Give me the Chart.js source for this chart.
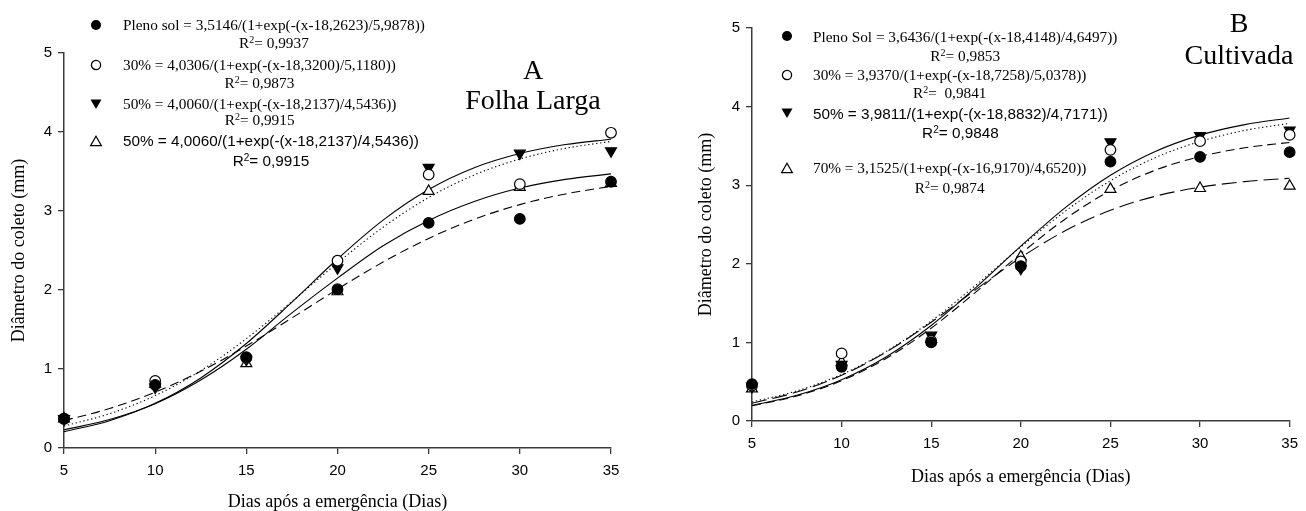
<!DOCTYPE html>
<html>
<head>
<meta charset="utf-8">
<script src="https://cdn.jsdelivr.net/npm/chart.js@4.4.0/dist/chart.umd.min.js"></script>
<style>
  body { margin: 0; background: #fff; width: 1306px; height: 511px; overflow: hidden; position: relative;
         font-family: "Liberation Serif", "Times New Roman", serif; color: #000; }
  .panel { position: absolute; top: 0; }
  .leg { position: absolute; white-space: pre; text-align: center; font-size: 15.3px; }
  .leg.sans { font-family: "Liberation Sans", Arial, sans-serif; }
  .leg sup { font-size: 10px; line-height: 0; vertical-align: 5px; }
  .mk { position: absolute; width: 14px; height: 14px; }
  .ttl { position: absolute; font-size: 28px; line-height: 31px; text-align: center; transform: translateX(-50%); white-space: pre; }
</style>
</head>
<body>
<div class="panel" style="left:0"><canvas id="chartA" width="640" height="511"></canvas></div>
<div class="panel" style="left:650px"><canvas id="chartB" width="656" height="511"></canvas></div>
<div id="overlay"></div>

<script>
// observed days and fitted-curve days
const days = [5, 10, 15, 20, 25, 30, 35];
const fitDays = [5, 7.5, 10, 12.5, 15, 17.5, 20, 22.5, 25, 27.5, 30, 32.5, 35];
const xTicks = [5, 10, 15, 20, 25, 30, 35];
const yTicks = [0, 1, 2, 3, 4, 5];

// A - Folha Larga, observed
const aPleno = [0.37, 0.80, 1.15, 2.01, 2.85, 2.90, 3.37];
const a30 = [0.37, 0.85, 1.14, 2.37, 3.46, 3.34, 3.99];
const a50 = [0.37, 0.77, 1.12, 2.28, 3.55, 3.73, 3.76];
const a70 = [0.37, 0.81, 1.07, 1.98, 3.25, 3.30, 3.35];
// A fitted curves
const aPlenoFit = [0.346, 0.500, 0.707, 0.971, 1.290, 1.646, 2.011, 2.354, 2.653, 2.896, 3.081, 3.216, 3.312];
const a30Fit = [0.278, 0.434, 0.663, 0.979, 1.384, 1.854, 2.343, 2.795, 3.171, 3.456, 3.658, 3.793, 3.881];
const a50Fit = [0.207, 0.346, 0.565, 0.887, 1.323, 1.846, 2.392, 2.884, 3.271, 3.547, 3.727, 3.841, 3.909];
const a70Fit = [0.23, 0.36, 0.56, 0.86, 1.25, 1.71, 2.15, 2.56, 2.88, 3.12, 3.29, 3.40, 3.47];

// B - Cultivada, observed
const bPleno = [0.47, 0.69, 1.00, 1.97, 3.30, 3.36, 3.42];
const b30 = [0.45, 0.86, 1.02, 2.03, 3.45, 3.56, 3.64];
const b50 = [0.44, 0.72, 1.09, 1.94, 3.55, 3.63, 3.70];
const b70 = [0.41, 0.75, 1.04, 2.09, 2.95, 2.96, 2.99];
// B fitted curves
const bPlenoFit = [0.193, 0.318, 0.513, 0.798, 1.181, 1.643, 2.129, 2.574, 2.932, 3.191, 3.365, 3.476, 3.544];
const b30Fit = [0.242, 0.383, 0.592, 0.887, 1.272, 1.730, 2.216, 2.673, 3.057, 3.350, 3.557, 3.697, 3.787];
const b50Fit = [0.199, 0.327, 0.526, 0.818, 1.215, 1.701, 2.225, 2.718, 3.126, 3.429, 3.637, 3.771, 3.855];
const b70Fit = [0.226, 0.368, 0.581, 0.880, 1.256, 1.675, 2.080, 2.423, 2.681, 2.859, 2.974, 3.046, 3.089];

// legend texts
const legA = [
  "Pleno sol = 3,5146/(1+exp(-(x-18,2623)/5,9878))",
  "30% = 4,0306/(1+exp(-(x-18,3200)/5,1180))",
  "50% = 4,0060/(1+exp(-(x-18,2137)/4,5436))",
  "50% = 4,0060/(1+exp(-(x-18,2137)/4,5436))",
];
const r2A = ["0,9937", "0,9873", "0,9915", "0,9915"];
const legB = [
  "Pleno Sol = 3,6436/(1+exp(-(x-18,4148)/4,6497))",
  "30% = 3,9370/(1+exp(-(x-18,7258)/5,0378))",
  "50% = 3,9811/(1+exp(-(x-18,8832)/4,7171))",
  "70% = 3,1525/(1+exp(-(x-16,9170)/4,6520))",
];
const r2B = ["0,9853", " 0,9841", "0,9848", "0,9874"];

const AX = "#3a3a3a";
const xy = (xs, ys) => xs.map((x, i) => ({ x, y: ys[i] }));

function pts(data, style) {
  const base = { type: "scatter", data, borderColor: "#000", borderWidth: 1.2, clip: false,
                 pointHoverRadius: 5 };
  if (style === "dot") return { ...base, pointStyle: "circle", pointRadius: 5.3, backgroundColor: "#000" };
  if (style === "ring") return { ...base, pointStyle: "circle", pointRadius: 5.3, backgroundColor: "#fff" };
  if (style === "down") return { ...base, pointStyle: "triangle", pointRotation: 180, pointRadius: 6.3, backgroundColor: "#000" };
  return { ...base, pointStyle: "triangle", pointRadius: 6.3, backgroundColor: "#fff" };
}

function curve(data, dash) {
  return { type: "line", data, borderColor: "#000", borderWidth: 1.1, borderDash: dash,
           pointRadius: 0, cubicInterpolationMode: "monotone", fill: false };
}

function makeChart(id, datasets, pad, yW, xH) {
  new Chart(document.getElementById(id), {
    data: { datasets },
    options: {
      responsive: false,
      animation: false,
      layout: { padding: pad },
      plugins: { legend: { display: false }, tooltip: { enabled: false } },
      scales: {
        x: {
          type: "linear", min: 5, max: 35,
          afterBuildTicks: (s) => { s.ticks = xTicks.map((v) => ({ value: v })); },
          afterFit: (s) => { s.height = xH; },
          grid: { drawOnChartArea: false, color: AX, tickLength: 6, lineWidth: 1.3 },
          border: { color: AX, width: 1.5 },
          ticks: { color: "#000", padding: 8, maxRotation: 0, font: { family: "Liberation Sans, Arial", size: 15 } },
          title: { display: true, text: "Dias após a emergência (Dias)", color: "#000", padding: 0,
                   font: { family: "Liberation Serif, Times New Roman", size: 18, lineHeight: 1 } },
        },
        y: {
          min: 0, max: 5,
          afterBuildTicks: (s) => { s.ticks = yTicks.map((v) => ({ value: v })); },
          afterFit: (s) => { s.width = yW; },
          grid: { drawOnChartArea: false, color: AX, tickLength: 6, lineWidth: 1.3 },
          border: { color: AX, width: 1.5 },
          ticks: { color: "#000", padding: 6, font: { family: "Liberation Sans, Arial", size: 15 } },
          title: { display: true, text: "Diâmetro do coleto (mm)", color: "#000", padding: 0,
                   font: { family: "Liberation Serif, Times New Roman", size: 18, lineHeight: 1 } },
        },
      },
    },
  });
}

makeChart("chartA", [
  pts(xy(days, aPleno), "dot"),
  pts(xy(days, a30), "ring"),
  pts(xy(days, a50), "down"),
  pts(xy(days, a70), "up"),
  curve(xy(fitDays, a50Fit), []),
  curve(xy(fitDays, a30Fit), [1.3, 2.7]),
  curve(xy(fitDays, aPlenoFit), [9, 5]),
  curve(xy(fitDays, a70Fit), []),
], { left: 10, right: 29, top: 53, bottom: 0 }, 54, 63);

makeChart("chartB", [
  pts(xy(days, bPleno), "dot"),
  pts(xy(days, b30), "ring"),
  pts(xy(days, b50), "down"),
  pts(xy(days, b70), "up"),
  curve(xy(fitDays, b50Fit), []),
  curve(xy(fitDays, b30Fit), [1.3, 2.7]),
  curve(xy(fitDays, bPlenoFit), [9, 5]),
  curve(xy(fitDays, b70Fit), [15, 6]),
], { left: 47, right: 8, top: 28, bottom: 25 }, 55, 65);

// legends and panel titles
const marks = {
  dot: '<circle cx="7" cy="7" r="5" fill="#000"/>',
  ring: '<circle cx="7" cy="7" r="4.6" fill="#fff" stroke="#000" stroke-width="1.3"/>',
  down: '<polygon points="1.5,2.5 12.5,2.5 7,12" fill="#000"/>',
  up: '<polygon points="7,2.2 12.4,11.6 1.6,11.6" fill="none" stroke="#000" stroke-width="1.2"/>',
};
const shapes = ["dot", "ring", "down", "up"];
const ov = document.getElementById("overlay");

function legend(texts, r2s, mx, tx, rows, gaps, sansRow) {
  texts.forEach((t, i) => {
    const m = document.createElement("div");
    m.className = "mk";
    m.style.left = mx - 7 + "px";
    m.style.top = rows[i] - 7 + "px";
    m.innerHTML = '<svg width="14" height="14">' + marks[shapes[i]] + "</svg>";
    ov.appendChild(m);
    const d = document.createElement("div");
    d.className = "leg" + (i === sansRow ? " sans" : "");
    d.style.left = tx + "px";
    d.style.top = rows[i] - gaps[i] / 2 + "px";
    d.style.lineHeight = gaps[i] + "px";
    d.innerHTML = t + "\nR<sup>2</sup>= " + r2s[i];
    ov.appendChild(d);
  });
}
legend(legA, r2A, 96, 123, [25, 65, 104, 141], [18, 18, 16, 20], 3);
legend(legB, r2B, 787, 813, [36, 75, 113, 168], [19, 18, 19, 20], 2);

function title(txt, cx, top, lh) {
  const d = document.createElement("div");
  d.className = "ttl";
  d.style.left = cx + "px";
  d.style.top = top + "px";
  d.style.lineHeight = lh + "px";
  d.textContent = txt;
  ov.appendChild(d);
}
title("A\nFolha Larga", 533, 55, 30);
title("B\nCultivada", 1239, 7, 32);
</script>
</body>
</html>
